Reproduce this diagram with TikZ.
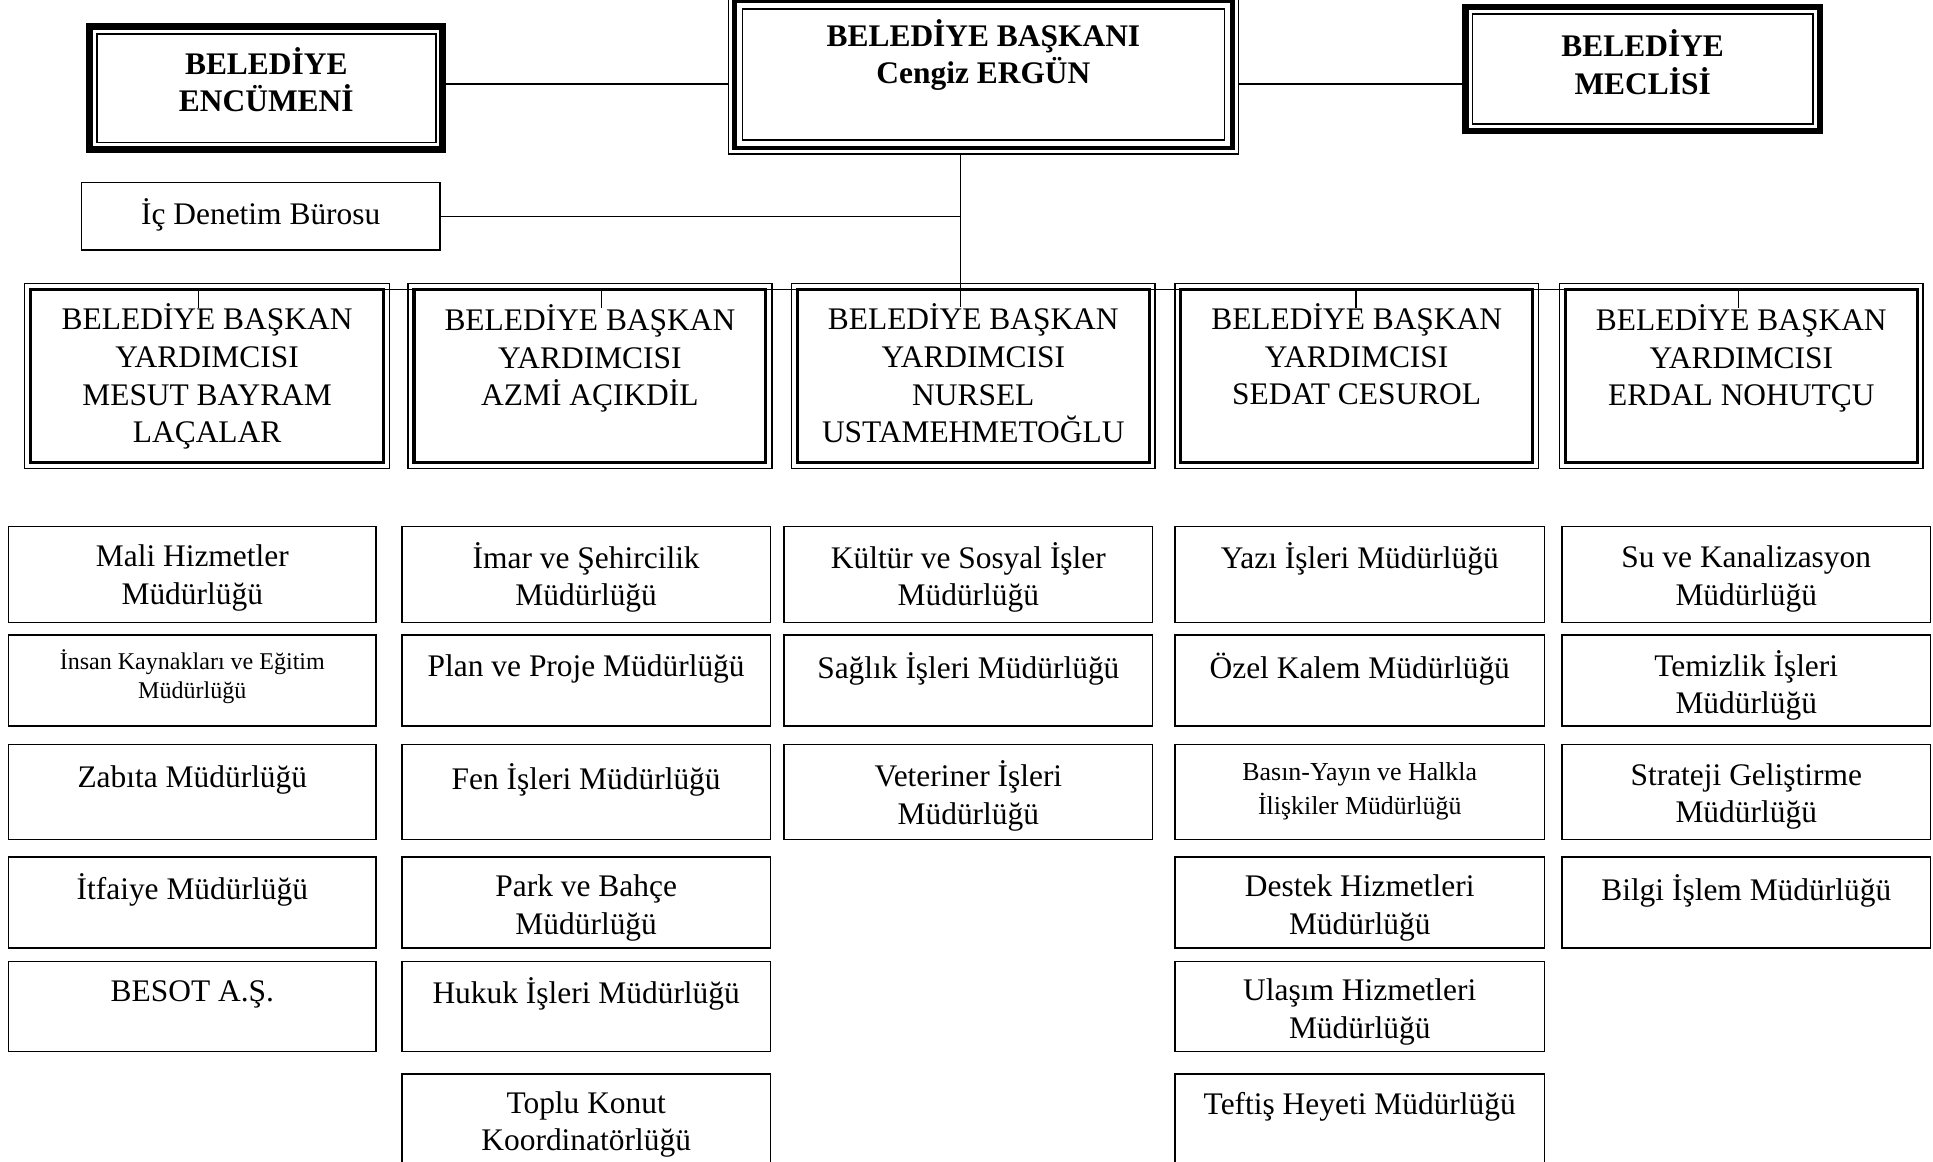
\documentclass[tikz,border=0pt]{standalone}
\usepackage{fontspec}
\setmainfont{Liberation Serif}
\usetikzlibrary{fit}
\newcommand\fbig{\fontsize{25.5pt}{30.5pt}\selectfont}
\newcommand\fsml{\fontsize{19.5pt}{23pt}\selectfont}
\newcommand\fmid{\fontsize{21pt}{28pt}\selectfont}
\tikzset{
 thinb/.style={draw, line width=1.3pt, inner sep=0pt},
 thickb/.style={draw, line width=5.5pt, inner sep=0pt},
 conn/.style={line width=1.2pt},
 bus/.style={line width=1pt},
 txt/.style={align=center, inner sep=0pt, font=\fbig},
 btxt/.style={align=center, inner sep=0pt, font=\fbig\bfseries},
}
\newcommand\depbox[5]{%
 \node[thinb, fit={(#2,#3) (#4,#5)}] (#1) {};
 \draw[line width=2.5pt] ([shift={(5.5,5.5)}]#1.north west) rectangle ([shift={(-5.5,-5.5)}]#1.south east);}
\newcommand\lowbox[5]{\node[thinb, fit={(#2,#3) (#4,#5)}] (#1) {};}
\begin{document}
\begin{tikzpicture}[x=1pt,y=-1pt]
\useasboundingbox (0,0) rectangle (1568,942);
\fill[white] (0,0) rectangle (1568,942);
\clip (0,0) rectangle (1568,942);

% ---- top level
\node[thinb, fit={(591,-4) (1004.5,125)}] (baskan) {};
\draw[line width=3.5pt] ([shift={(5.5,5.5)}]baskan.north west) rectangle ([shift={(-5.5,-5.5)}]baskan.south east);
\draw[line width=1.2pt] ([shift={(12,12)}]baskan.north west) rectangle ([shift={(-12,-12)}]baskan.south east);
\node[btxt] (baskant) at (797.75,44.5) {BELEDİYE BAŞKANI\\Cengiz ERGÜN};

\node[thickb, fit={(72.75,21.75) (359.25,121.25)}] (enc) {};
\draw[line width=1.2pt] ([shift={(8.5,8.5)}]enc.north west) rectangle ([shift={(-8.5,-8.5)}]enc.south east);
\node[btxt] (enct) at (216,64.5) {BELEDİYE\\ENCÜMENİ};

\node[thickb, fit={(1188.75,5.75) (1476.25,106.25)}] (meclis) {};
\draw[line width=1.2pt] ([shift={(8.5,8.5)}]meclis.north west) rectangle ([shift={(-8.5,-8.5)}]meclis.south east);
\node[btxt] (meclist) at (1332.5,50.5) {BELEDİYE\\MECLİSİ};

\node[thinb, fit={(66,148) (357,203)}] (ic) {};
\node[txt] (ict) at (211.5,174) {İç Denetim Bürosu};

% ---- connectors
\coordinate (yA) at (0,68);
\coordinate (tk) at (779,249);
\coordinate (b1) at (161,235);
\coordinate (b2) at (488,235);
\coordinate (b3) at (779,235);
\coordinate (b4) at (1100,235);
\coordinate (b5) at (1410,235);
\coordinate (e1) at (161,250);
\coordinate (e2) at (488,250);
\coordinate (e4) at (1100,250);
\coordinate (e5) at (1410,250);
\draw[conn] (enc.east |- yA) -- (baskan.west |- yA);
\draw[conn] (baskan.east |- yA) -- (meclis.west |- yA);
\draw[conn] (baskan.south -| tk) -- (tk);
\draw[conn] (ic.east) -- (ic.east -| tk);

% ---- deputies
\depbox{d1}{20}{230}{316}{380}
\depbox{d2}{331}{230}{626}{380}
\depbox{d3}{642}{230}{937}{380}
\depbox{d4}{953}{230}{1248}{380}
\depbox{d5}{1265}{230}{1560}{380}
\draw[bus] (b1) -- (b5);
\draw[bus] (b1) -- (e1);
\draw[bus] (b2) -- (e2);
\draw[bus] (b4) -- (e4);
\draw[bus] (b5) -- (e5);
\node[txt] (d1t) at (168,305.5) {BELEDİYE BAŞKAN\\YARDIMCISI\\MESUT BAYRAM\\LAÇALAR};
\node[txt] (d2t) at (478.5,291) {BELEDİYE BAŞKAN\\YARDIMCISI\\AZMİ AÇIKDİL};
\node[txt] (d3t) at (789.5,303) {BELEDİYE BAŞKAN\\YARDIMCISI\\NURSEL\\USTAMEHMETOĞLU};
\node[txt] (d4t) at (1100.5,287.5) {BELEDİYE BAŞKAN\\YARDIMCISI\\SEDAT CESUROL};
\node[txt] (d5t) at (1412.5,291) {BELEDİYE BAŞKAN\\YARDIMCISI\\ERDAL NOHUTÇU};

% ---- column 1
\lowbox{a1}{7}{427}{305}{505}
\lowbox{a2}{7}{515}{305}{589}
\lowbox{a3}{7}{604}{305}{681}
\lowbox{a4}{7}{695}{305}{769}
\lowbox{a5}{7}{780}{305}{853}
\node[txt] (a1t) at (156,469) {Mali Hizmetler\\Müdürlüğü};
\node[txt, font=\fsml] (a2t) at (156,549) {İnsan Kaynakları ve Eğitim\\Müdürlüğü};
\node[txt] (a3t) at (156,633) {Zabıta Müdürlüğü};
\node[txt] (a4t) at (156,721.5) {İtfaiye Müdürlüğü};
\node[txt] (a5t) at (156,807) {BESOT A.Ş.};

% ---- column 2
\lowbox{b1box}{326}{427}{625}{505}
\lowbox{b2box}{326}{515}{625}{589}
\lowbox{b3box}{326}{604}{625}{681}
\lowbox{b4box}{326}{695}{625}{769}
\lowbox{b5box}{326}{780}{625}{853}
\lowbox{b6box}{326}{871}{625}{960}
\node[txt] (b1t) at (475.5,468.5) {İmar ve Şehircilik\\Müdürlüğü};
\node[txt] (b2t) at (475.5,543) {Plan ve Proje Müdürlüğü};
\node[txt] (b3t) at (475.5,632.5) {Fen İşleri Müdürlüğü};
\node[txt] (b4t) at (475.5,736.5) {Park ve Bahçe\\Müdürlüğü};
\node[txt] (b5t) at (475.5,806) {Hukuk İşleri Müdürlüğü};
\node[txt] (b6t) at (475.5,912) {Toplu Konut\\Koordinatörlüğü};

% ---- column 3
\lowbox{c1}{636}{427}{935}{505}
\lowbox{c2}{636}{515}{935}{589}
\lowbox{c3}{636}{604}{935}{681}
\node[txt] (c1t) at (785.5,468.5) {Kültür ve Sosyal İşler\\Müdürlüğü};
\node[txt] (c2t) at (785.5,542.5) {Sağlık İşleri Müdürlüğü};
\node[txt] (c3t) at (785.5,645.5) {Veteriner İşleri\\Müdürlüğü};

% ---- column 4
\lowbox{f1}{953}{427}{1253}{505}
\lowbox{f2}{953}{515}{1253}{589}
\lowbox{f3}{953}{604}{1253}{681}
\lowbox{f4}{953}{695}{1253}{769}
\lowbox{f5}{953}{780}{1253}{853}
\lowbox{f6}{953}{871}{1253}{960}
\node[txt] (f1t) at (1103,453.5) {Yazı İşleri Müdürlüğü};
\node[txt] (f2t) at (1103,542.5) {Özel Kalem Müdürlüğü};
\node[txt, font=\fmid] (f3t) at (1103,642) {Basın-Yayın ve Halkla\\İlişkiler Müdürlüğü};
\node[txt] (f4t) at (1103,736.5) {Destek Hizmetleri\\Müdürlüğü};
\node[txt] (f5t) at (1103,821) {Ulaşım Hizmetleri\\Müdürlüğü};
\node[txt] (f6t) at (1103,898) {Teftiş Heyeti Müdürlüğü};

% ---- column 5
\lowbox{g1}{1267}{427}{1566}{505}
\lowbox{g2}{1267}{515}{1566}{589}
\lowbox{g3}{1267}{604}{1566}{681}
\lowbox{g4}{1267}{695}{1566}{769}
\node[txt] (g1t) at (1416.5,469.5) {Su ve Kanalizasyon\\Müdürlüğü};
\node[txt] (g2t) at (1416.5,556) {Temizlik İşleri\\Müdürlüğü};
\node[txt] (g3t) at (1416.5,646) {Strateji Geliştirme\\Müdürlüğü};
\node[txt] (g4t) at (1416.5,722.5) {Bilgi İşlem Müdürlüğü};
\end{tikzpicture}
\end{document}
